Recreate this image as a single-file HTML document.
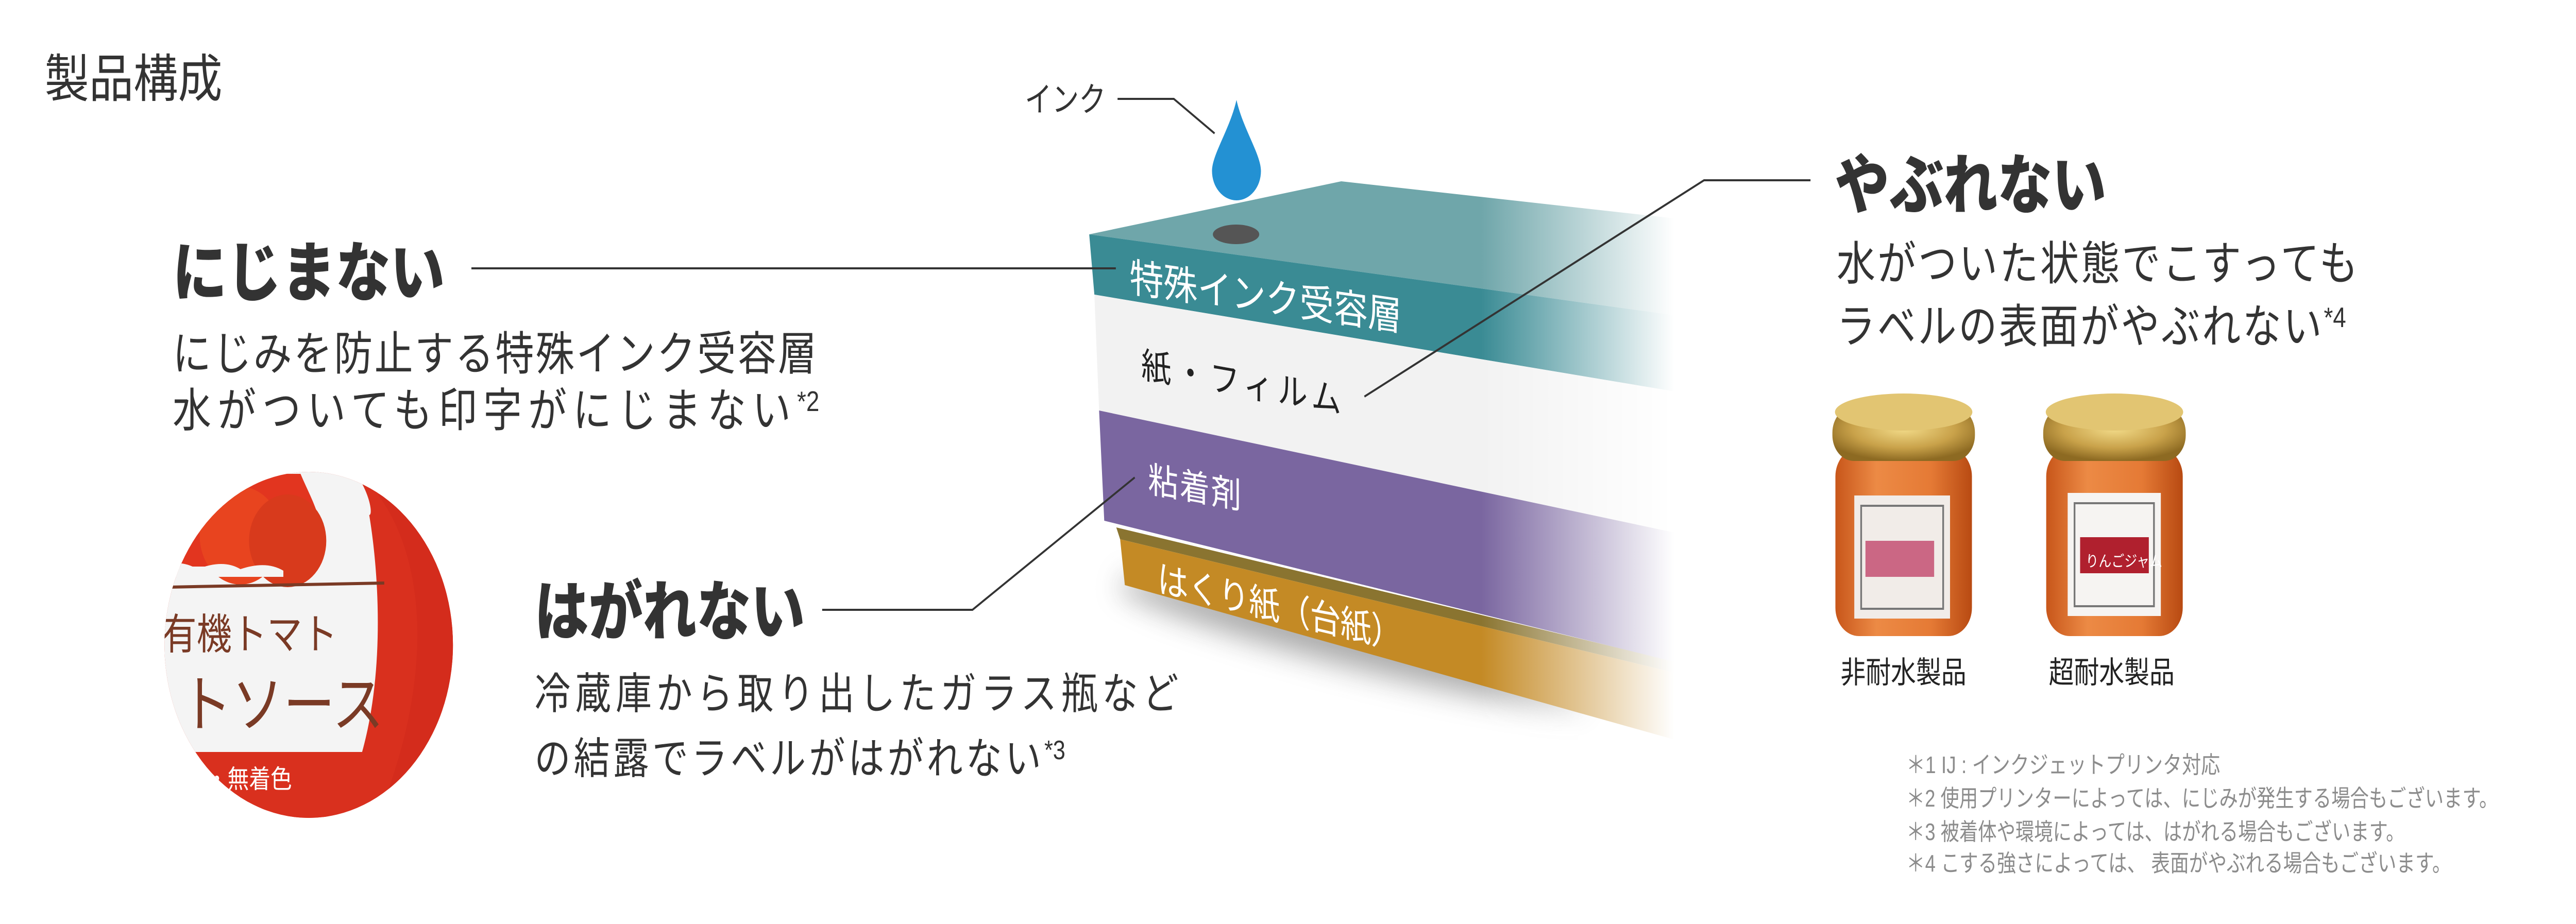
<!DOCTYPE html>
<html><head><meta charset="utf-8"><style>
html,body{margin:0;padding:0;background:#fff;overflow:hidden;}
svg{display:block;width:100vw;height:100vh;}
text{font-family:"Liberation Sans","Noto Sans CJK JP",sans-serif;}
</style></head><body>
<svg viewBox="0 0 6000 1794" preserveAspectRatio="none" xmlns="http://www.w3.org/2000/svg">
<defs>
<linearGradient id="fade" gradientUnits="userSpaceOnUse" x1="3450" y1="0" x2="3900" y2="0">
<stop offset="0" stop-color="#fff"/><stop offset="1" stop-color="#000"/></linearGradient>
<mask id="m"><rect x="2400" y="300" width="1600" height="1400" fill="url(#fade)"/></mask>
<filter id="blur" x="-30%" y="-100%" width="160%" height="300%"><feGaussianBlur stdDeviation="28"/></filter>
<clipPath id="circ"><circle cx="719" cy="1252" r="336"/></clipPath>
<radialGradient id="lid" cx="0.5" cy="0.4" r="0.6"><stop offset="0" stop-color="#f3dc8a"/><stop offset="0.6" stop-color="#c9a24a"/><stop offset="1" stop-color="#8d6a22"/></radialGradient>
<linearGradient id="body" x1="0" y1="0" x2="1" y2="0"><stop offset="0" stop-color="#c8561a"/><stop offset="0.3" stop-color="#ec8a45"/><stop offset="0.7" stop-color="#e57a35"/><stop offset="1" stop-color="#b84a12"/></linearGradient>
</defs>

<text x="104" y="188" font-size="100" fill="#333" textLength="414" lengthAdjust="spacingAndGlyphs">製品構成</text>

<text x="2387" y="216" font-size="66" fill="#333" textLength="189" lengthAdjust="spacingAndGlyphs">インク</text>
<polyline points="2603,192 2734,192 2829,259" fill="none" stroke="#333" stroke-width="4"/>
<path d="M2880,194 C2895,250 2937,300 2937,332 A57,57 0 0 1 2823,332 C2823,300 2865,250 2880,194 Z" fill="#2391d3"/>

<g mask="url(#m)">
<ellipse cx="3150" cy="1250" rx="560" ry="45" fill="#666" opacity="0.55" filter="url(#blur)" transform="rotate(12 3150 1250)"/>
<polygon points="2600,1024 3900,1284 3900,1306 2609,1047" fill="#8a7430"/>
<polygon points="2609,1047 3900,1306 3900,1436 2620,1136" fill="#c48a25"/>
<polygon points="2537,455 3124,352 3900,424 3900,612" fill="#6fa6aa"/>
<polygon points="2537,455 3900,612 3900,760 2549,572" fill="#3a8b94"/>
<polygon points="2549,572 3900,760 3900,1034 2560,797" fill="#f2f2f2"/>
<polygon points="2560,797 3900,1034 3900,1285 2572,1011" fill="#7a66a0"/>
<ellipse cx="2879" cy="455" rx="54" ry="19" fill="#555"/>
</g>

<text font-size="78" fill="#fff" transform="matrix(1,0.12,0,1,2631,566)" textLength="634" lengthAdjust="spacingAndGlyphs">特殊インク受容層</text>
<text font-size="70" fill="#222" transform="matrix(1,0.148,0,1,2658,733)" textLength="466" lengthAdjust="spacing">紙・フィルム</text>
<text font-size="70" fill="#fff" transform="matrix(1,0.15,0,1,2674,955)" textLength="217" lengthAdjust="spacing">粘着剤</text>
<text font-size="72" fill="#fff" transform="matrix(1,0.2,0,1,2696,1148)" textLength="569" lengthAdjust="spacing">はくり紙（台紙）</text>

<line x1="1098" y1="521" x2="2599" y2="521" stroke="#333" stroke-width="4"/>
<polyline points="3178,770 3969,350 4217,350" fill="none" stroke="#333" stroke-width="4"/>
<polyline points="2643,927 2265,1184 1915,1184" fill="none" stroke="#333" stroke-width="4"/>

<text x="402" y="574" font-size="126" font-weight="900" fill="#333" textLength="634" lengthAdjust="spacingAndGlyphs">にじまない</text>
<text x="402" y="718" font-size="90" fill="#333" textLength="1500" lengthAdjust="spacing">にじみを防止する特殊インク受容層</text>
<text x="402" y="828" font-size="90" fill="#333"><tspan textLength="1440" lengthAdjust="spacing">水がついても印字がにじまない</tspan><tspan font-size="55" dy="-30">*2</tspan></text>

<text x="1245" y="1232" font-size="126" font-weight="900" fill="#333" textLength="630" lengthAdjust="spacingAndGlyphs">はがれない</text>
<text x="1245" y="1376" font-size="84" fill="#333" textLength="1500" lengthAdjust="spacing">冷蔵庫から取り出したガラス瓶など</text>
<text x="1245" y="1502" font-size="84" fill="#333"><tspan textLength="1180" lengthAdjust="spacing">の結露でラベルがはがれない</tspan><tspan font-size="52" dy="-28">*3</tspan></text>

<text x="4274" y="404" font-size="126" font-weight="900" fill="#333" textLength="632" lengthAdjust="spacingAndGlyphs">やぶれない</text>
<text x="4278" y="543" font-size="90" fill="#333" textLength="1214" lengthAdjust="spacing">水がついた状態でこすっても</text>
<text x="4278" y="665" font-size="90" fill="#333"><tspan textLength="1130" lengthAdjust="spacing">ラベルの表面がやぶれない</tspan><tspan font-size="55" dy="-30">*4</tspan></text>

<g clip-path="url(#circ)">
<rect x="380" y="910" width="680" height="690" fill="#d9301e"/>
<path d="M380,1000 L860,1000 C880,1100 900,1300 840,1470 L380,1470 Z" fill="#f4f4f4"/>
<path d="M380,910 L820,910 C860,950 870,1000 860,1000 L380,1000 Z" fill="#f4f4f4"/>
<path d="M380,920 L700,920 C730,980 780,1040 720,1100 L380,1100 Z" fill="#e2351f"/>
<circle cx="560" cy="1040" r="95" fill="#e8441f"/>
<circle cx="670" cy="1050" r="90" fill="#d83a1c"/>
<path d="M380,1100 Q420,1085 460,1105 Q520,1085 560,1105 Q620,1088 660,1108 L660,1120 L380,1120Z" fill="#f4f4f4"/>
<line x1="390" y1="1140" x2="895" y2="1132" stroke="#7a3a25" stroke-width="6"/>
<text x="376" y="1260" font-size="82" fill="#7a3a25" font-family="Liberation Serif,Noto Serif CJK SC,serif">有機トマト</text>
<text x="420" y="1410" font-size="120" fill="#7a3a25" font-family="Liberation Serif,Noto Serif CJK SC,serif">トソース</text>
<rect x="380" y="1460" width="680" height="140" fill="#d9301e"/>
<text x="480" y="1530" font-size="50" fill="#fff" font-family="Liberation Serif,Noto Serif CJK SC,serif">・無着色</text>
<path d="M880,960 C960,1050 1000,1200 950,1400 C930,1480 900,1540 880,1600 L1060,1600 L1060,910 Z" fill="#d42c1c"/>
</g>

<g>
<rect x="4275" y="870" width="318" height="365" rx="55" fill="url(#body)"/>
<rect x="4268" y="790" width="332" height="105" rx="50" fill="url(#lid)"/>
<ellipse cx="4434" cy="800" rx="160" ry="36" fill="#e2c572"/>
<rect x="4319" y="962" width="223" height="239" fill="#f1ece8"/>
<rect x="4335" y="982" width="191" height="200" fill="none" stroke="#777" stroke-width="4"/>
<rect x="4345" y="1050" width="160" height="70" fill="#c2466a" opacity="0.8"/>
<text x="4287" y="1326" font-size="59" fill="#222" textLength="293" lengthAdjust="spacingAndGlyphs">非耐水製品</text>
</g>
<g>
<rect x="4766" y="870" width="318" height="365" rx="55" fill="url(#body)"/>
<rect x="4759" y="790" width="332" height="105" rx="50" fill="url(#lid)"/>
<ellipse cx="4925" cy="800" rx="160" ry="36" fill="#e2c572"/>
<rect x="4816" y="957" width="217" height="239" fill="#f6f4f2"/>
<rect x="4832" y="977" width="185" height="200" fill="none" stroke="#777" stroke-width="4"/>
<rect x="4845" y="1043" width="160" height="70" fill="#b0202e"/>
<text x="4858" y="1100" font-size="30" fill="#fff">りんごジャム</text>
<text x="4772" y="1326" font-size="59" fill="#222" textLength="293" lengthAdjust="spacingAndGlyphs">超耐水製品</text>
</g>

<g font-size="46" fill="#8c8c8c">
<text x="4440" y="1501" textLength="731" lengthAdjust="spacingAndGlyphs">＊1 IJ : インクジェットプリンタ対応</text>
<text x="4440" y="1566" textLength="1378" lengthAdjust="spacingAndGlyphs">＊2 使用プリンターによっては、にじみが発生する場合もございます。</text>
<text x="4440" y="1631" textLength="1161" lengthAdjust="spacingAndGlyphs">＊3 被着体や環境によっては、はがれる場合もございます。</text>
<text x="4440" y="1692" textLength="1269" lengthAdjust="spacingAndGlyphs">＊4 こする強さによっては、 表面がやぶれる場合もございます。</text>
</g>
</svg>
</body></html>
